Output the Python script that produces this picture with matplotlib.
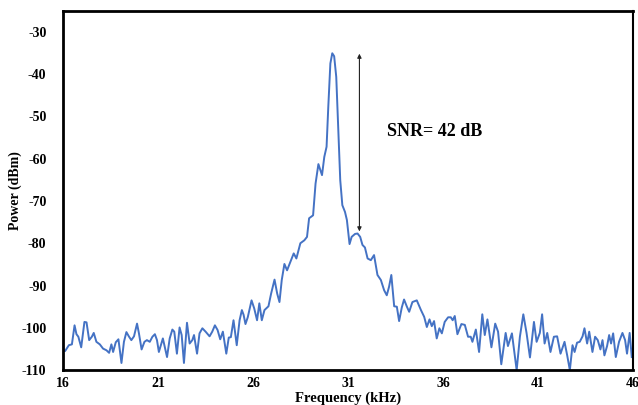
import matplotlib
matplotlib.use("Agg")
import matplotlib.pyplot as plt

plt.rcParams["axes.unicode_minus"] = False

# spectrum trace (kHz, dBm)
freq_khz = [
    16.0, 16.1, 16.3, 16.46, 16.6, 16.7, 16.8, 16.95, 17.12, 17.23, 17.37, 17.51, 17.61, 17.75,
    17.93, 18.1, 18.28, 18.42, 18.54, 18.63, 18.77, 18.91, 19.07, 19.2, 19.33, 19.47, 19.59,
    19.73, 19.89, 19.99, 20.13, 20.28, 20.41, 20.56, 20.7, 20.83, 20.94, 21.04,
    21.25, 21.47, 21.61, 21.75, 21.85, 21.99, 22.13, 22.24, 22.36, 22.52, 22.66, 22.8, 22.89,
    23.05, 23.18, 23.33, 23.5, 23.71, 23.85, 23.99, 24.13, 24.27, 24.41, 24.59, 24.72, 24.83,
    24.97, 25.06, 25.14, 25.29, 25.41, 25.5, 25.6, 25.72, 25.92, 26.06,
    26.21, 26.33, 26.46, 26.6, 26.81, 26.95, 27.13, 27.27, 27.39, 27.51, 27.65, 27.79, 27.93,
    28.14, 28.28, 28.49, 28.7, 28.84, 28.95, 29.16, 29.29, 29.44, 29.63, 29.75, 29.87, 29.96,
    30.07, 30.17, 30.27, 30.38, 30.49, 30.59, 30.7, 30.84, 30.94, 31.08, 31.19, 31.37,
    31.5, 31.64, 31.76, 31.89, 32.03, 32.2, 32.37, 32.55, 32.73, 32.9, 33.04, 33.16, 33.28,
    33.43, 33.57, 33.69, 33.83, 33.95, 34.1, 34.22, 34.39, 34.62, 34.84, 35.01, 35.15, 35.29,
    35.41, 35.53, 35.67, 35.81, 35.94, 36.09, 36.27, 36.41, 36.51, 36.62,
    36.76, 36.97, 37.15, 37.32, 37.46, 37.55, 37.73, 37.9, 38.07, 38.2, 38.34, 38.55, 38.75,
    38.9, 39.07, 39.3, 39.42, 39.63, 39.88, 40.05, 40.23, 40.4, 40.58, 40.79, 40.93, 41.1,
    41.22, 41.35, 41.49, 41.66, 41.84, 42.01,
    42.19, 42.4, 42.54, 42.68, 42.82, 42.93, 43.06, 43.2, 43.35, 43.45, 43.59, 43.7, 43.87,
    44.01, 44.15, 44.29, 44.4, 44.5, 44.64, 44.75, 44.85, 44.96, 45.1, 45.27, 45.45, 45.59,
    45.69, 45.83, 45.94,
]
power_dbm = [
    -105.1, -105.5, -104.1, -103.9, -99.4, -101.5, -102.1, -104.6, -98.6, -98.7, -102.9, -102.1, -101.2, -103.3,
    -103.9, -104.9, -105.3, -105.9, -103.9, -105.7, -103.4, -102.7, -108.3, -103.3, -101.0, -102.1, -102.9,
    -102.0, -99.0, -101.3, -105.1, -103.3, -102.9, -103.3, -102.1, -101.5, -102.9, -105.7,
    -102.5, -106.9, -102.5, -100.4, -100.9, -106.1, -99.9, -101.7, -108.3, -98.8, -103.7, -102.9, -101.7,
    -106.1, -101.3, -100.1, -100.9, -102.0, -100.9, -99.4, -100.5, -102.7, -100.9, -106.1, -102.3, -102.2,
    -98.2, -101.3, -104.1, -98.2, -95.8, -96.9, -99.1, -97.5, -93.5, -95.4,
    -98.2, -94.2, -98.2, -95.8, -94.9, -91.9, -88.6, -91.9, -93.9, -88.7, -84.9, -86.4, -84.8,
    -82.4, -83.6, -80.0, -79.3, -78.5, -74.1, -73.4, -65.9, -61.3, -63.9, -59.6, -57.2, -47.8,
    -37.5, -35.1, -35.8, -40.7, -53.3, -65.1, -71.0, -72.6, -74.5, -80.2, -78.5, -77.8,
    -77.7, -78.5, -80.4, -81.0, -83.6, -84.0, -82.8, -87.5, -88.7, -91.1, -92.3, -90.3, -87.5,
    -94.9, -95.0, -98.4, -95.2, -93.3, -95.0, -96.2, -93.9, -93.5, -95.8, -97.4, -99.8, -98.0,
    -99.6, -98.4, -102.5, -100.1, -101.3, -98.6, -97.5, -97.5, -98.2, -97.2,
    -101.5, -99.1, -99.3, -102.1, -102.1, -103.3, -100.4, -105.7, -96.8, -101.7, -98.0, -104.6, -99.0,
    -100.9, -108.6, -101.2, -104.3, -101.3, -110.0, -102.1, -96.8, -101.2, -107.0, -98.6, -103.3, -101.2,
    -96.8, -103.7, -101.2, -105.7, -102.1, -102.0,
    -106.1, -103.3, -106.5, -110.0, -104.1, -105.7, -103.5, -103.3, -102.0, -100.1, -103.7, -100.9, -105.7,
    -102.1, -102.9, -105.1, -102.9, -106.5, -104.3, -101.7, -103.7, -101.3, -106.9, -103.3, -101.2, -102.9,
    -106.1, -101.2, -106.9,
]

x_ticks = [16, 21, 26, 31, 36, 41, 46]
y_ticks = [-110, -100, -90, -80, -70, -60, -50, -40, -30]

# SNR marker
snr_db = 42
snr_freq = 31.6
snr_top = -35.2
snr_bottom = snr_top - snr_db

serif = ["Liberation Serif", "DejaVu Serif"]

fig = plt.figure(figsize=(6.38, 4.05), dpi=100)
ax = fig.add_axes([0.099, 0.086, 0.893, 0.888])

ax.plot(freq_khz, power_dbm, color="#4472C4", lw=1.4, solid_joinstyle="round")

ax.annotate("", xy=(snr_freq, snr_top), xytext=(snr_freq, snr_bottom),
            arrowprops=dict(arrowstyle="<|-|>", color="#222222", lw=0.8,
                            mutation_scale=6, shrinkA=0, shrinkB=0))
ax.text(33.05, -53.5, f"SNR= {snr_db} dB", family=serif, fontweight="bold",
        fontsize=13, va="center", ha="left")

ax.set_xlim(16, 46)
ax.set_ylim(-110, -25)
ax.set_xticks(x_ticks)
ax.set_yticks(y_ticks)
ax.tick_params(length=0, pad=12)
ax.tick_params(axis="x", pad=5)
for lab in ax.get_xticklabels() + ax.get_yticklabels():
    lab.set_family(serif)
    lab.set_fontweight("bold")
    lab.set_fontsize(10)

ax.set_xlabel("Frequency (kHz)", family=serif, fontweight="bold", fontsize=10.5)
ax.set_ylabel("Power (dBm)", family=serif, fontweight="bold", fontsize=10)
ax.xaxis.set_label_coords(0.5, -0.058)
ax.yaxis.set_label_coords(-0.073, 0.5)

for side in ["left", "top", "bottom"]:
    ax.spines[side].set_linewidth(2.0)
ax.spines["right"].set_linewidth(1.5)

fig.savefig("out.png", dpi=100)
